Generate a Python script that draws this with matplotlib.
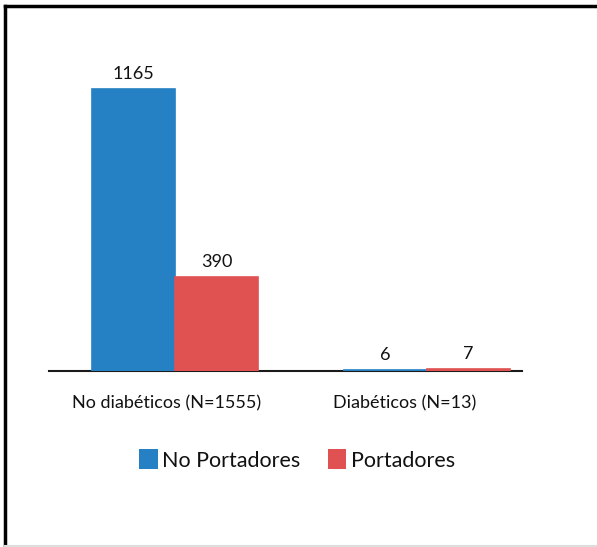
import matplotlib
matplotlib.use("Agg")
import matplotlib.pyplot as plt
import numpy as np
from matplotlib.lines import Line2D
from matplotlib.patches import Patch

categories = ["No diabéticos (N=1555)", "Diabéticos (N=13)"]
series_names = ["No Portadores", "Portadores"]
no_portadores = [1165, 6]
portadores = [390, 7]
colors = ["#2581C4", "#E05252"]

plt.rcParams["font.family"] = ["Lato", "DejaVu Sans"]

W, H = 597, 547
fig = plt.figure(figsize=(W / 100, H / 100), dpi=100)
ax = fig.add_axes([49 / W, (H - 371) / H, (522 - 49) / W, (371 - 40) / H])

x = np.arange(len(categories))
bw = 0.33
for i, (vals, col) in enumerate(zip([no_portadores, portadores], colors)):
    offs = (i - 0.5) * bw
    ax.bar(x + offs, vals, width=bw, color=col, edgecolor=col, linewidth=1.2, zorder=3)
    for xi, v in zip(x, vals):
        ax.annotate(str(v), (xi + offs, v), xytext=(0, 5), textcoords="offset points",
                    ha="center", va="bottom", fontsize=13, color="#111111")

ax.set_xlim(-0.5, 1.377)
ax.set_ylim(0, 1367)
ax.set_yticks([])
ax.set_xticks(x)
ax.set_xticklabels([])
ax.tick_params(axis="x", length=0)
# category labels, nudged slightly left of the group centres
for xi, name, dx in zip(x, categories, [-8, -22]):
    ax.annotate(name, (xi, 0), xytext=(dx, -32), textcoords="offset pixels",
                ha="center", va="center", fontsize=13, color="#111111",
                annotation_clip=False)
for s in ["top", "right", "left"]:
    ax.spines[s].set_visible(False)
ax.spines["bottom"].set_linewidth(1.5)
ax.spines["bottom"].set_color("#1a1a1a")

handles = [Patch(facecolor=c, edgecolor="none") for c in colors]
fig.legend(handles, series_names, loc="center", bbox_to_anchor=(297 / W, 1 - 460 / H),
           ncol=2, frameon=False, fontsize=15.5, handlelength=0.85, handleheight=1.0,
           handletextpad=0.2, columnspacing=1.3, labelcolor="#111111")

# outer frame
fig.add_artist(Line2D([5 / W, 5 / W], [0, 1 - 6 / H], color="black", lw=2.5, transform=fig.transFigure))
fig.add_artist(Line2D([5 / W, 1], [1 - 6 / H, 1 - 6 / H], color="black", lw=2.5, transform=fig.transFigure))
fig.add_artist(Line2D([5 / W, 1], [1.5 / H, 1.5 / H], color="#dddddd", lw=1.5, transform=fig.transFigure))

fig.savefig("out.png", dpi=100)
